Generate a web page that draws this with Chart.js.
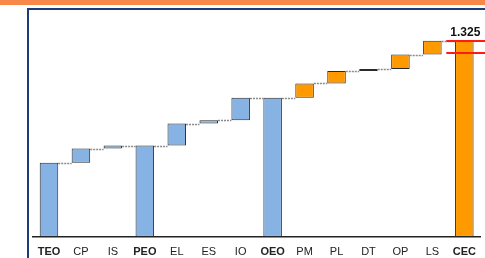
<!DOCTYPE html>
<html>
<head>
<meta charset="utf-8">
<script src="https://cdn.jsdelivr.net/npm/chart.js@4.4.1/dist/chart.umd.min.js"></script>
<style>
  html, body { margin: 0; padding: 0; background: #fff; }
  #page { position: relative; width: 485px; height: 258px; overflow: hidden; font-family: "Liberation Sans", Arial, sans-serif; }
  #band { position: absolute; left: 0; top: 0; width: 485px; height: 5px; background: #f7884a; }
  #frame { position: absolute; left: 27px; top: 8px; width: 470px; height: 260px; border-left: 2px solid #1f3a78; border-top: 2px solid #1f3a78; }
  #chart { position: absolute; left: 0; top: 0; }
</style>
</head>
<body>
<div id="page">
  <div id="band"></div>
  <div id="frame"></div>
  <canvas id="chart" width="485" height="258"></canvas>
</div>
<script>
const categories = ["TEO", "CP", "IS", "PEO", "EL", "ES", "IO", "OEO", "PM", "PL", "DT", "OP", "LS", "CEC"];
// totals are drawn from zero, the rest are steps on top of the running level
const isTotal = [true, false, false, true, false, false, false, true, false, false, false, false, false, true];
const values = [0.500, 0.097, 0.020, 0.617, 0.149, 0.022, 0.152, 0.940, 0.097, 0.084, 0.013, 0.098, 0.093, 1.325];
const barColors = ["#86b3e3", "#86b3e3", "#86b3e3", "#86b3e3", "#86b3e3", "#86b3e3", "#86b3e3", "#86b3e3",
  "#ff9900", "#ff9900", "#ff9900", "#ff9900", "#ff9900", "#ff9900"];
const markerLines = [1.325, 1.241];
const topLabel = "1.325";

function buildRanges() {
  const ranges = [];
  let level = 0;
  values.forEach((value, i) => {
    if (isTotal[i]) {
      ranges.push([0, value]);
      level = value;
    } else {
      ranges.push([level, level + value]);
      level += value;
    }
  });
  return ranges;
}

const ranges = buildRanges();

const waterfallExtras = {
  id: "waterfallExtras",
  afterDatasetsDraw(chart) {
    const { ctx } = chart;
    const meta = chart.getDatasetMeta(0);
    const yScale = chart.scales.y;
    const xScale = chart.scales.x;

    // connectors between bars
    ctx.save();
    ctx.strokeStyle = "#8a8a8a";
    ctx.lineWidth = 1.5;
    ctx.setLineDash([2, 1]);
    for (let i = 0; i < meta.data.length - 1; i++) {
      const bar = meta.data[i];
      const next = meta.data[i + 1];
      const y = Math.round(yScale.getPixelForValue(ranges[i][1])) + 0.5;
      ctx.beginPath();
      ctx.moveTo(bar.x + bar.width / 2, y);
      ctx.lineTo(next.x - next.width / 2, y);
      ctx.stroke();
    }
    ctx.restore();

    // red marker lines on the last column
    const last = meta.data.length - 1;
    const cx = xScale.getPixelForValue(last);
    ctx.save();
    ctx.strokeStyle = "#ff1a1a";
    ctx.lineWidth = 2;
    markerLines.forEach((v) => {
      const y = Math.round(yScale.getPixelForValue(v));
      ctx.beginPath();
      ctx.moveTo(cx - 18, y);
      ctx.lineTo(chart.width, y);
      ctx.stroke();
    });

    ctx.fillStyle = "#111";
    ctx.font = "bold 12px 'Liberation Sans', Arial, sans-serif";
    ctx.textAlign = "center";
    ctx.textBaseline = "alphabetic";
    ctx.fillText(topLabel, cx + 1, yScale.getPixelForValue(values[last]) - 5);
    ctx.restore();
  },
};

new Chart(document.getElementById("chart"), {
  type: "bar",
  data: {
    labels: categories,
    datasets: [
      {
        data: ranges,
        backgroundColor: barColors,
        borderColor: "#2a2a2a",
        borderWidth: 1,
        borderSkipped: false,
        barPercentage: 0.58,
        categoryPercentage: 1,
      },
    ],
  },
  options: {
    responsive: false,
    animation: false,
    layout: {
      padding: { left: 33, right: 2, top: 12, bottom: -10 },
    },
    plugins: {
      legend: { display: false },
      tooltip: { enabled: false },
    },
    scales: {
      x: {
        grid: { display: false, drawTicks: false },
        border: { display: true, color: "#222", width: 1.5 },
        ticks: {
          color: "#222",
          padding: 9,
          font: (context) => ({
            family: "'Liberation Sans', Arial, sans-serif",
            size: 11,
            weight: isTotal[context.index] ? "bold" : "normal",
          }),
        },
      },
      y: {
        display: false,
        min: 0,
        max: 1.52,
      },
    },
  },
  plugins: [waterfallExtras],
});
</script>
</body>
</html>
